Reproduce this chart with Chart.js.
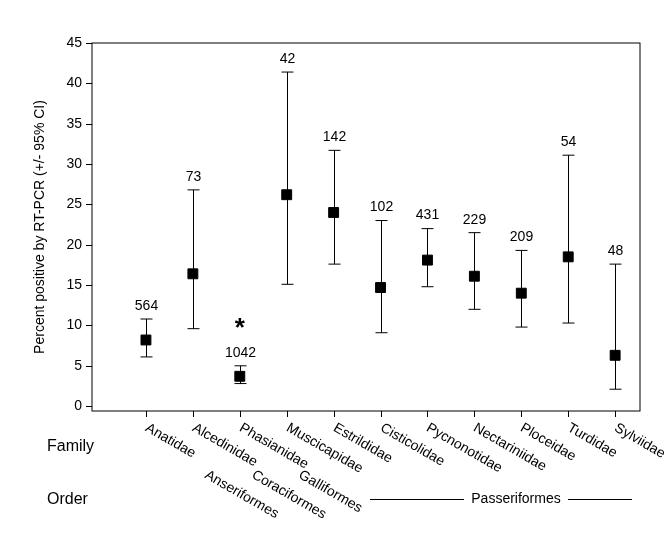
<!DOCTYPE html>
<html><head><meta charset="utf-8">
<script src="https://cdn.jsdelivr.net/npm/chart.js@4"></script>
<style>body{margin:0;background:#fff}#wrap{width:672px;height:547px}</style>
</head><body><div id="wrap"><canvas id="c"></canvas></div>
<script>
const families = ["Anatidae","Alcedinidae","Phasianidae","Muscicapidae","Estrildidae","Cisticolidae","Pycnonotidae","Nectariniidae","Ploceidae","Turdidae","Sylviidae"];
const means = [8.2,16.4,3.7,26.2,24.0,14.7,18.1,16.1,14.0,18.5,6.3];
const upper = [10.8,26.8,5.0,41.4,31.7,23.0,22.0,21.5,19.3,31.1,17.6];
const lower = [6.1,9.6,2.8,15.1,17.6,9.1,14.8,12.0,9.8,10.3,2.1];
const sampleN = ["564","73","1042","42","142","102","431","229","209","54","48"];
const yTicks = [0,5,10,15,20,25,30,35,40,45];
const orders = [["Anseriformes",1],["Coraciformes",2],["Galliformes",3]];

const F = "Liberation Sans, Arial, sans-serif";
const draw = {
  id:'draw',
  beforeDatasetsDraw(ch){
    const c=ch.ctx, x=ch.scales.x, y=ch.scales.y, a=ch.chartArea;
    c.save(); c.strokeStyle='#000'; c.lineWidth=1; c.fillStyle='#000';
    c.strokeRect(a.left,a.top,a.right-a.left,a.bottom-a.top);
    c.font='14px '+F; c.textAlign='right'; c.textBaseline='middle';
    yTicks.forEach(t=>{const py=Math.round(y.getPixelForValue(t))+0.5;
      c.beginPath();c.moveTo(a.left-6,py);c.lineTo(a.left,py);c.stroke();
      c.fillText(t,a.left-10,py);});
    families.forEach((f,i)=>{const px=Math.round(x.getPixelForValue(i+1))+0.5;
      c.beginPath();c.moveTo(px,a.bottom);c.lineTo(px,a.bottom+6);c.stroke();
      const yu=y.getPixelForValue(upper[i]), yl=y.getPixelForValue(lower[i]);
      c.beginPath();c.moveTo(px,yu);c.lineTo(px,yl);
      c.moveTo(px-6,yu);c.lineTo(px+6,yu);c.moveTo(px-6,yl);c.lineTo(px+6,yl);c.stroke();
      c.textAlign='center';c.textBaseline='bottom';c.font='14px '+F;
      c.fillText(sampleN[i],px,yu-6);
      c.save();c.translate(px,427);c.rotate(Math.PI/6);c.textAlign='left';c.textBaseline='middle';
      c.font='14px '+F;c.fillText(f,0,0);c.restore();
    });
    c.font='bold 26px '+F;c.textAlign='center';c.textBaseline='middle';
    c.fillText('*',x.getPixelForValue(3),y.getPixelForValue(9.6));
    c.font='16px '+F;c.textAlign='left';
    c.fillText('Family',47,447);c.fillText('Order',47,500);
    c.font='14px '+F;
    orders.forEach(o=>{const px=x.getPixelForValue(o[1])+60;c.save();c.translate(px,474);c.rotate(Math.PI/6);c.fillText(o[0],0,0);c.restore();});
    c.textAlign='center';c.fillText('Passeriformes',516,499);
    c.beginPath();c.moveTo(370,499.5);c.lineTo(464,499.5);c.moveTo(568,499.5);c.lineTo(632,499.5);c.stroke();
    c.save();c.translate(40,(a.top+a.bottom)/2);c.rotate(-Math.PI/2);c.font='14px '+F;
    c.fillText('Percent positive by RT-PCR (+/- 95% CI)',0,0);c.restore();
    c.restore();
  }
};
new Chart('c',{
  type:'scatter',
  data:{datasets:[{data:means.map((m,i)=>({x:i+1,y:m})),pointStyle:'rect',pointRadius:7,
    backgroundColor:'#000',borderColor:'#000'}]},
  options:{responsive:true,maintainAspectRatio:false,animation:false,
    layout:{padding:{left:92,top:43,right:32,bottom:136}},
    plugins:{legend:{display:false},tooltip:{enabled:false}},
    scales:{x:{type:'linear',min:-0.15,max:11.53,display:false},
            y:{min:-0.6,max:45,display:false}}},
  plugins:[draw]
});
</script></body></html>
